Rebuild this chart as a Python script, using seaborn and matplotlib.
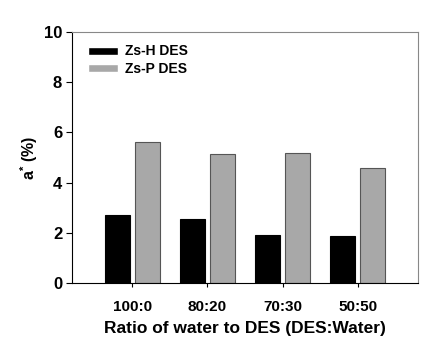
import numpy as np
import pandas as pd
import matplotlib
matplotlib.use("Agg")
import matplotlib.pyplot as plt
import seaborn as sns

# data
ratios = ["100:0", "80:20", "70:30", "50:50"]
zs_h = [2.72, 2.54, 1.92, 1.86]
zs_p = [5.60, 5.13, 5.17, 4.59]
series = ["Zs-H DES", "Zs-P DES"]

df = pd.DataFrame({
    "ratio": ratios * 2,
    "value": zs_h + zs_p,
    "group": [series[0]] * len(ratios) + [series[1]] * len(ratios),
})

sns.set_style("ticks")
plt.rcParams["font.family"] = ["Liberation Sans", "DejaVu Sans"]
plt.rcParams["mathtext.fontset"] = "custom"
plt.rcParams["mathtext.rm"] = "Liberation Sans:bold"
plt.rcParams["mathtext.it"] = "Liberation Sans:bold"
for k in ["text.color", "axes.labelcolor", "xtick.color", "ytick.color"]:
    plt.rcParams[k] = "black"

fig = plt.figure(figsize=(4.41, 3.51), dpi=100)
ax = fig.add_axes([0.163, 0.194, 0.785, 0.715])

sns.barplot(data=df, x="ratio", y="value", hue="group", order=ratios,
            hue_order=series, palette=["black", "#a8a8a8"], gap=0.17,
            width=0.8, ax=ax, saturation=1, legend=True)

# edge colours per series
for cont, ec in zip(ax.containers, ["black", "#555555"]):
    for p in cont:
        p.set_edgecolor(ec)
        p.set_linewidth(0.8)

ax.set_ylim(0, 10)
ax.set_xlim(-0.8, 3.8)
ax.set_yticks([0, 2, 4, 6, 8, 10])
ax.tick_params(axis="y", labelsize=12, length=4, width=0.8, direction="out", pad=3)
ax.tick_params(axis="x", labelsize=11, length=3, width=0.8, direction="out", pad=9)
for lab in ax.get_xticklabels() + ax.get_yticklabels():
    lab.set_fontweight("bold")

ax.set_xlabel("Ratio of water to DES (DES:Water)", fontsize=12.5, fontweight="bold", labelpad=5)
ax.set_ylabel(r"a$^{*}$ (%)", fontsize=11.5, fontweight="bold", labelpad=3)

for s in ["left", "bottom"]:
    ax.spines[s].set_color("black")
    ax.spines[s].set_linewidth(0.8)
for s in ["top", "right"]:
    ax.spines[s].set_visible(True)
    ax.spines[s].set_color("#888888")
    ax.spines[s].set_linewidth(0.8)

leg = ax.legend(loc="upper left", bbox_to_anchor=(0.046, 0.95), frameon=False,
                prop={"size": 10, "weight": "bold"}, handlelength=2.2,
                handleheight=0.5, labelspacing=0.25, handletextpad=0.45,
                borderpad=0, borderaxespad=0)

fig.savefig("out.png", dpi=100)
